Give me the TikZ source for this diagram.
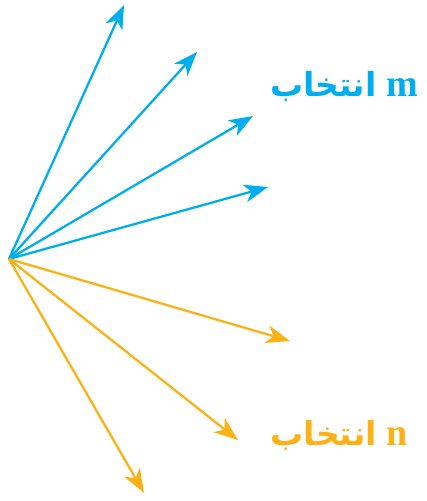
\documentclass[tikz,border=0pt]{standalone}
\usepackage{fontspec}
\setmainfont{Liberation Serif}
\newfontfamily\arabicfont[Script=Arabic]{DejaVu Sans}
\TeXXeTstate=1
\usetikzlibrary{arrows.meta}
\definecolor{selblue}{RGB}{0,174,239}
\definecolor{selorange}{RGB}{252,178,22}
\begin{document}
\begin{tikzpicture}[
    x=1pt, y=-1pt,
    vec/.style={-{Stealth[length=24pt, width=18pt, inset=7pt]}, line width=2.3pt},
    blue vec/.style={vec, selblue},
    orange vec/.style={vec, selorange},
    sel/.style={anchor=base east, inner sep=0pt, font=\fontsize{38}{42}\selectfont\bfseries}
]
\useasboundingbox (0,0) rectangle (427,501);
\coordinate (o) at (9,259);

\coordinate (b1) at (124,5);
\coordinate (b2) at (197,52);
\coordinate (b3) at (253,116);
\coordinate (b4) at (268,187);
\coordinate (r1) at (290,341);
\coordinate (r2) at (238,440);
\coordinate (r3) at (144,493);

\draw[blue vec] (o) -- (b1);
\draw[blue vec] (o) -- (b2);
\draw[blue vec] (o) -- (b3);
\draw[blue vec] (o) -- (b4);

\draw[orange vec] (o) -- (r1);
\draw[orange vec] (o) -- (r2);
\draw[orange vec] (o) -- (r3);

\node[sel, text=selblue] (selm) at (418,96) {\beginR m {\arabicfont\fontsize{33}{38}\selectfont انتخاب}\endR};
\node[sel, text=selorange] (seln) at (408,445) {\beginR n {\arabicfont\fontsize{33}{38}\selectfont انتخاب}\endR};
\end{tikzpicture}
\end{document}
